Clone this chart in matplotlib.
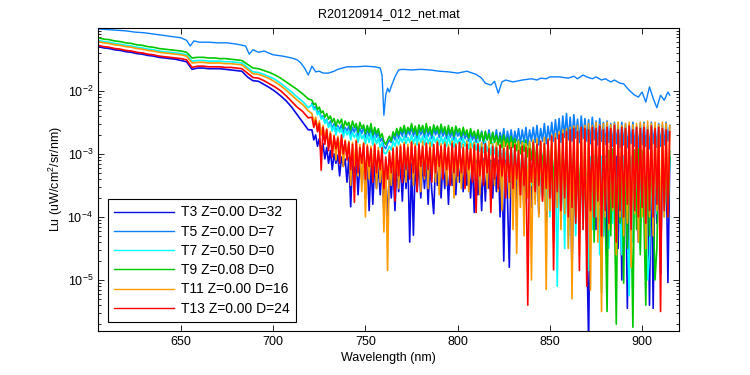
import numpy as np
import matplotlib
matplotlib.use("Agg")
import matplotlib.pyplot as plt

plt.rcParams['font.family'] = ['Liberation Sans', 'DejaVu Sans']
plt.rcParams['font.size'] = 9
plt.rcParams['mathtext.default'] = 'regular'

# wavelength grids (nm): smooth visible part and noisy NIR part
wl_vis = np.arange(605, 720, 3)   # 605 .. 719
wl_nir = np.arange(721, 916)      # 721 .. 915

# all radiance values below are log10(Lu)
t3_vis = [-1.30, -1.32, -1.33, -1.35, -1.36, -1.38, -1.39, -1.41, -1.42, -1.44,
          -1.45, -1.47, -1.48, -1.49, -1.50, -1.52, -1.54, -1.66, -1.64, -1.64,
          -1.65, -1.65, -1.65, -1.66, -1.67, -1.68, -1.69, -1.78, -1.84, -1.85,
          -1.90, -1.95, -2.01, -2.08, -2.16, -2.26, -2.38, -2.50, -2.62]
t3_nir = [-2.62, -2.78, -2.70, -2.88, -2.76, -2.98, -2.84, -3.08, -2.90, -3.15,
          -2.95, -3.25, -3.00, -3.15, -3.02, -3.35, -3.05, -3.20, -3.08, -3.45,
          -3.05, -3.84, -3.10, -3.30, -3.08, -3.65, -3.12, -3.40, -3.10, -3.70,
          -3.12, -3.90, -3.15, -3.80, -3.12, -3.55, -3.18, -3.65, -3.20, -3.90,
          -3.30, -4.13, -3.25, -3.70, -3.20, -3.90, -3.18, -3.60, -3.15, -3.75,
          -3.12, -3.55, -3.10, -4.40, -3.15, -4.29, -3.12, -3.60, -3.10, -3.70,
          -3.12, -3.55, -3.10, -3.80, -3.14, -3.60, -3.95, -3.12, -3.50, -3.10,
          -3.70, -3.12, -3.55, -3.10, -3.80, -3.14, -3.50, -3.10, -3.65, -3.12,
          -3.45, -3.10, -3.60, -3.14, -3.50, -3.10, -3.70, -3.12, -3.93, -3.10,
          -3.65, -3.12, -3.90, -3.08, -3.75, -3.12, -3.55, -3.10, -3.70, -3.08,
          -3.60, -3.10, -4.00, -3.06, -4.70, -3.08, -3.70, -4.80, -3.05, -3.60,
          -3.06, -3.80, -3.04, -3.65, -3.08, -3.90, -3.04, -3.60, -3.06, -3.85,
          -3.04, -3.70, -3.06, -3.95, -3.02, -3.65, -3.06, -4.10, -3.04, -3.75,
          -3.06, -4.20, -3.02, -3.80, -3.06, -4.00, -3.04, -3.70, -3.06, -4.30,
          -3.04, -4.90, -3.06, -3.90, -3.04, -4.10, -3.08, -3.80, -3.04, -4.40,
          -6.00, -3.06, -3.90, -3.04, -4.20, -3.08, -3.80, -3.06, -4.30, -3.04,
          -4.60, -3.06, -4.00, -3.08, -3.85, -3.04, -4.50, -3.06, -5.00, -3.04,
          -3.06, -5.45, -3.04, -4.20, -3.08, -3.90, -3.04, -4.40, -3.06, -3.85,
          -3.04, -4.00, -3.06, -5.40, -3.04, -5.45, -3.08, -4.10, -3.04, -4.90,
          -3.06, -3.80, -3.04, -5.04, -3.06]

t5_wl = [605, 610, 615, 620, 625, 630, 635, 640, 645, 650, 653, 655, 657, 660,
         665, 670, 675, 680, 685, 687, 689, 692, 695, 700, 705, 710, 713, 715,
         717, 719, 721, 723, 725, 727, 730, 733, 735, 740, 745, 750, 755, 758,
         759, 760, 761, 762, 763, 764, 766, 768, 770, 775, 780, 785, 790, 795,
         800, 805, 810, 813, 815, 818, 820, 822, 824, 826, 830, 835, 840, 843,
         845, 848, 850, 855, 860, 863, 865, 868, 870, 873, 875, 878, 880, 883,
         885, 888, 890, 892, 894, 896, 898, 900, 902, 904, 906, 908, 910, 912,
         914, 915]
t5_val = [-1.02, -1.03, -1.04, -1.05, -1.07, -1.08, -1.10, -1.12, -1.14, -1.16,
          -1.20, -1.29, -1.21, -1.23, -1.23, -1.24, -1.24, -1.26, -1.29, -1.42,
          -1.35, -1.39, -1.37, -1.43, -1.45, -1.48, -1.51, -1.56, -1.64, -1.75,
          -1.61, -1.70, -1.69, -1.72, -1.72, -1.69, -1.66, -1.62, -1.62, -1.61,
          -1.62, -1.64, -1.75, -2.39, -2.07, -1.96, -2.02, -1.93, -1.78, -1.67,
          -1.66, -1.67, -1.66, -1.67, -1.69, -1.70, -1.72, -1.69, -1.74, -1.80,
          -1.88, -1.91, -1.85, -2.04, -1.86, -1.83, -1.86, -1.83, -1.81, -1.83,
          -1.80, -1.81, -1.78, -1.78, -1.80, -1.77, -1.81, -1.75, -1.78, -1.81,
          -1.78, -1.83, -1.81, -1.86, -1.83, -1.88, -1.89, -1.96, -2.02, -2.07,
          -2.10, -2.02, -2.18, -1.94, -2.12, -2.27, -2.07, -2.15, -2.02, -2.07]

# unlabelled trace drawn in the T5 colour inside the noisy band
t5b_nir = [-2.20, -2.28, -2.25, -2.36, -2.32, -2.42, -2.40, -2.50, -2.45, -2.56,
           -2.48, -2.60, -2.52, -2.66, -2.55, -2.62, -2.54, -2.68, -2.58, -2.64,
           -2.56, -2.70, -2.58, -2.66, -2.55, -2.72, -2.60, -2.68, -2.57, -2.74,
           -2.60, -2.72, -2.58, -2.76, -2.62, -2.74, -2.66, -2.80, -2.75, -2.88,
           -2.92, -2.84, -2.78, -2.82, -2.70, -2.78, -2.65, -2.76, -2.62, -2.72,
           -2.60, -2.74, -2.62, -2.70, -2.58, -2.72, -2.62, -2.76, -2.60, -2.70,
           -2.62, -2.74, -2.58, -2.72, -2.63, -2.76, -2.60, -2.70, -2.62, -2.74,
           -2.60, -2.72, -2.63, -2.76, -2.61, -2.74, -2.64, -2.78, -2.62, -2.72,
           -2.66, -2.78, -2.64, -2.76, -2.68, -2.80, -2.66, -2.78, -2.70, -2.82,
           -2.68, -2.80, -2.64, -2.84, -2.70, -2.78, -2.62, -2.82, -2.66, -2.80,
           -2.62, -2.84, -2.66, -2.80, -2.60, -2.86, -2.64, -2.82, -2.62, -2.85,
           -2.64, -2.80, -2.60, -2.84, -2.62, -2.82, -2.58, -2.86, -2.62, -2.80,
           -2.58, -2.82, -2.55, -2.86, -2.60, -2.80, -2.52, -2.84, -2.56, -2.78,
           -2.50, -2.80, -2.46, -2.76, -2.44, -2.82, -2.40, -2.74, -2.36, -2.78,
           -2.42, -2.80, -2.38, -2.75, -2.45, -2.82, -2.40, -2.76, -2.44, -2.80,
           -2.46, -2.84, -2.42, -2.78, -2.48, -2.86, -2.44, -2.80, -2.50, -2.85,
           -2.48, -2.82, -2.52, -2.88, -2.50, -2.84, -2.54, -2.90, -2.50, -2.86,
           -2.52, -2.90, -2.55, -2.84, -2.50, -2.88, -2.56, -2.92, -2.52, -2.86,
           -2.50, -2.88, -2.55, -2.92, -2.50, -2.84, -2.56, -2.90, -2.52, -2.88,
           -2.54, -2.86, -2.50, -2.80, -2.55]

t7_vis = [-1.20, -1.22, -1.23, -1.25, -1.26, -1.28, -1.29, -1.31, -1.32, -1.34,
          -1.35, -1.37, -1.38, -1.39, -1.40, -1.41, -1.43, -1.53, -1.52, -1.52,
          -1.53, -1.53, -1.53, -1.54, -1.54, -1.55, -1.56, -1.63, -1.70, -1.71,
          -1.74, -1.78, -1.82, -1.88, -1.95, -2.02, -2.10, -2.17, -2.27]
t7_nir = [-2.22, -2.30, -2.28, -2.38, -2.34, -2.45, -2.42, -2.52, -2.46, -2.58,
          -2.52, -2.64, -2.56, -2.70, -2.58, -2.66, -2.60, -2.74, -2.62, -2.70,
          -2.64, -2.78, -2.66, -2.74, -2.68, -2.82, -2.66, -2.76, -2.70, -2.84,
          -2.70, -2.82, -2.68, -2.86, -2.72, -2.84, -2.74, -2.90, -2.82, -2.98,
          -3.00, -2.95, -2.88, -2.94, -2.80, -2.88, -2.76, -2.86, -2.74, -2.82,
          -2.72, -2.84, -2.74, -2.82, -2.70, -2.84, -2.72, -2.86, -2.70, -2.82,
          -2.72, -2.86, -2.70, -2.84, -2.74, -2.88, -2.72, -2.82, -2.74, -2.86,
          -2.72, -2.84, -2.74, -2.88, -2.72, -2.86, -2.75, -2.90, -2.74, -2.84,
          -2.76, -2.90, -2.75, -2.88, -2.78, -2.92, -2.76, -2.90, -2.80, -2.94,
          -2.80, -2.96, -2.82, -2.98, -2.80, -2.96, -2.84, -3.02, -2.82, -3.00,
          -2.86, -3.05, -2.88, -3.10, -2.86, -3.08, -2.90, -3.15, -2.88, -3.20,
          -2.92, -3.25, -2.94, -3.35, -2.96, -3.30, -2.95, -3.45, -2.98, -3.50,
          -2.96, -3.60, -3.00, -3.80, -2.98, -3.70, -3.02, -3.90, -3.00, -4.00,
          -3.00, -4.20, -3.02, -5.10, -3.00, -4.00, -3.04, -4.50, -3.02, -4.48,
          -3.00, -4.10, -3.04, -4.30, -3.02, -3.90, -3.06, -4.20, -3.04, -4.40,
          -4.85, -3.05, -4.20, -3.02, -4.00, -3.06, -4.60, -3.04, -4.30, -3.06,
          -3.04, -4.50, -3.06, -4.10, -3.02, -4.30, -3.08, -3.90, -4.60, -3.04,
          -3.06, -4.20, -5.25, -3.04, -4.40, -3.08, -4.00, -3.06, -4.50, -3.04,
          -3.08, -4.10, -5.00, -4.60, -3.06, -4.20, -3.04, -3.95, -3.08, -4.30,
          -3.06, -4.00, -3.04, -3.90, -3.06]

t9_vis = [-1.16, -1.18, -1.19, -1.21, -1.22, -1.24, -1.25, -1.27, -1.28, -1.30,
          -1.31, -1.33, -1.34, -1.35, -1.36, -1.37, -1.39, -1.48, -1.47, -1.47,
          -1.48, -1.48, -1.49, -1.49, -1.50, -1.51, -1.52, -1.58, -1.64, -1.65,
          -1.68, -1.71, -1.75, -1.80, -1.86, -1.92, -1.98, -2.05, -2.13]
t9_nir = [-2.15, -2.22, -2.20, -2.30, -2.26, -2.35, -2.32, -2.42, -2.36, -2.45,
          -2.40, -2.50, -2.44, -2.56, -2.46, -2.52, -2.45, -2.60, -2.48, -2.55,
          -2.50, -2.62, -2.48, -2.58, -2.52, -2.66, -2.50, -2.60, -2.54, -2.68,
          -2.55, -2.66, -2.52, -2.70, -2.58, -2.68, -2.60, -2.74, -2.68, -2.80,
          -2.85, -2.78, -2.72, -2.80, -2.65, -2.72, -2.60, -2.70, -2.58, -2.66,
          -2.55, -2.68, -2.58, -2.64, -2.52, -2.66, -2.56, -2.70, -2.54, -2.64,
          -2.55, -2.68, -2.52, -2.66, -2.57, -2.70, -2.54, -2.64, -2.56, -2.68,
          -2.53, -2.66, -2.57, -2.70, -2.55, -2.68, -2.58, -2.72, -2.56, -2.66,
          -2.60, -2.72, -2.58, -2.70, -2.62, -2.75, -2.60, -2.72, -2.64, -2.76,
          -2.62, -2.78, -2.66, -2.80, -2.64, -2.78, -2.68, -2.84, -2.66, -2.82,
          -2.70, -2.86, -2.72, -2.90, -2.70, -2.88, -2.74, -2.92, -2.72, -2.90,
          -2.76, -2.95, -2.78, -3.00, -2.80, -2.96, -2.78, -3.05, -2.82, -3.10,
          -2.80, -3.15, -2.84, -3.30, -2.86, -3.20, -2.85, -3.40, -2.88, -3.25,
          -2.86, -3.50, -2.90, -3.35, -2.88, -3.60, -2.92, -3.45, -2.90, -3.80,
          -2.88, -3.55, -2.92, -4.00, -2.90, -3.70, -2.94, -3.90, -2.92, -4.20,
          -2.90, -3.80, -2.94, -4.40, -2.92, -3.70, -2.95, -5.20, -2.92, -4.00,
          -5.50, -2.95, -4.30, -2.92, -3.90, -5.70, -2.96, -4.10, -2.94, -5.05,
          -2.92, -4.50, -2.96, -3.90, -5.75, -2.94, -4.20, -2.92, -4.60, -2.95,
          -4.00, -5.40, -2.94, -4.30, -2.92, -3.90, -5.00, -4.50, -2.94, -4.10,
          -2.95, -3.80, -2.92, -4.00, -2.96]

t11_vis = [-1.22, -1.24, -1.25, -1.27, -1.28, -1.30, -1.31, -1.33, -1.34, -1.36,
           -1.37, -1.39, -1.40, -1.41, -1.42, -1.43, -1.45, -1.56, -1.55, -1.55,
           -1.56, -1.56, -1.56, -1.57, -1.57, -1.58, -1.59, -1.66, -1.73, -1.74,
           -1.77, -1.81, -1.86, -1.92, -1.99, -2.07, -2.15, -2.22, -2.32]
t11_nir = [-2.36, -2.50, -2.42, -2.60, -2.48, -2.70, -2.55, -2.78, -2.60, -2.88,
           -2.65, -2.98, -2.70, -3.10, -2.72, -2.90, -2.75, -3.20, -2.78, -3.05,
           -2.80, -3.50, -2.82, -3.20, -2.78, -3.35, -2.85, -3.60, -2.82, -4.00,
           -2.85, -3.40, -2.88, -3.30, -2.84, -3.55, -2.90, -3.45, -3.00, -4.24,
           -3.10, -4.85, -2.95, -3.50, -2.90, -3.35, -2.88, -3.55, -2.85, -3.40,
           -2.82, -3.45, -2.85, -3.30, -2.80, -3.50, -2.84, -3.35, -2.82, -3.60,
           -2.80, -3.40, -2.84, -3.55, -2.82, -3.30, -2.86, -3.45, -2.80, -3.65,
           -2.84, -3.35, -2.82, -3.50, -2.86, -3.40, -2.80, -3.70, -2.84, -3.45,
           -2.82, -3.55, -2.85, -3.35, -2.80, -3.60, -2.84, -3.40, -2.82, -3.50,
           -2.84, -3.65, -2.82, -3.45, -2.86, -3.55, -2.80, -3.75, -2.84, -3.50,
           -2.82, -3.60, -2.86, -3.90, -2.80, -3.55, -2.84, -3.70, -2.82, -4.20,
           -2.84, -4.58, -2.80, -3.85, -2.82, -4.30, -2.84, -3.70, -2.80, -5.00,
           -2.78, -3.80, -2.76, -4.00, -2.80, -3.75, -2.74, -5.15, -2.76, -3.90,
           -2.70, -4.40, -2.68, -3.85, -2.65, -4.20, -2.62, -3.95, -2.60, -4.50,
           -2.58, -5.30, -2.56, -4.00, -2.55, -4.60, -2.58, -3.90, -2.55, -4.30,
           -2.52, -5.16, -2.55, -3.95, -2.50, -4.40, -2.54, -5.50, -2.52, -4.00,
           -2.50, -4.20, -2.54, -3.90, -2.52, -4.60, -2.50, -4.00, -2.55, -4.30,
           -2.52, -4.10, -2.50, -4.80, -2.54, -3.95, -2.52, -4.40, -2.50, -4.00,
           -2.52, -4.50, -2.48, -4.00, -2.52, -4.30, -2.50, -3.90, -2.54, -4.20,
           -2.50, -4.00, -2.52, -3.90, -2.55]

t13_vis = [-1.28, -1.30, -1.31, -1.33, -1.34, -1.36, -1.37, -1.39, -1.40, -1.42,
           -1.43, -1.45, -1.46, -1.47, -1.48, -1.49, -1.51, -1.63, -1.61, -1.61,
           -1.62, -1.62, -1.62, -1.63, -1.63, -1.64, -1.65, -1.72, -1.79, -1.80,
           -1.84, -1.89, -1.94, -2.00, -2.08, -2.17, -2.26, -2.33, -2.43]
t13_nir = [-2.42, -2.58, -2.47, -2.65, -2.52, -3.26, -2.58, -2.85, -2.62, -2.95,
           -2.68, -3.05, -2.72, -2.92, -2.75, -3.15, -2.70, -3.00, -2.80, -3.10,
           -2.82, -3.25, -2.85, -3.77, -2.80, -3.30, -2.90, -3.15, -2.84, -3.40,
           -2.88, -3.20, -2.92, -3.45, -2.86, -3.30, -2.95, -3.25, -2.90, -3.55,
           -3.05, -3.40, -2.98, -3.30, -2.92, -3.75, -2.90, -3.35, -2.88, -3.45,
           -2.85, -3.25, -2.90, -3.40, -2.82, -3.30, -2.88, -3.60, -2.85, -3.20,
           -2.88, -3.35, -2.83, -3.25, -2.90, -3.45, -2.85, -3.30, -2.82, -3.20,
           -2.88, -3.40, -2.85, -3.25, -2.90, -3.50, -2.84, -3.30, -2.86, -3.35,
           -2.82, -3.30, -2.90, -3.55, -2.85, -3.25, -2.92, -3.45, -2.86, -3.93,
           -2.85, -3.35, -2.90, -3.50, -2.84, -3.30, -2.92, -3.93, -2.88, -3.40,
           -2.90, -3.55, -2.86, -3.35, -2.92, -3.70, -2.88, -3.45, -2.90, -3.55,
           -2.86, -3.40, -2.95, -3.65, -2.88, -3.50, -2.90, -5.40, -2.92, -3.45,
           -2.82, -3.60, -2.85, -3.50, -2.80, -3.75, -2.84, -3.55, -2.78, -3.70,
           -2.72, -4.84, -2.75, -3.60, -2.70, -3.90, -2.68, -3.70, -2.65, -4.00,
           -2.62, -3.85, -2.60, -4.10, -2.65, -4.85, -2.58, -4.20, -2.60, -5.10,
           -2.62, -3.90, -2.58, -4.00, -2.60, -3.75, -2.56, -4.30, -2.62, -3.90,
           -2.58, -4.10, -2.60, -3.85, -2.55, -4.40, -2.62, -3.90, -2.58, -4.00,
           -2.60, -3.80, -2.56, -4.20, -2.62, -3.90, -2.58, -4.00, -2.60, -3.85,
           -2.58, -4.10, -2.62, -3.90, -2.56, -4.00, -2.60, -3.80, -2.58, -5.50,
           -2.60, -3.90, -2.62, -4.00, -2.65]

labels = ["T3 Z=0.00 D=32", "T5 Z=0.00 D=7", "T7 Z=0.50 D=0",
          "T9 Z=0.08 D=0", "T11 Z=0.00 D=16", "T13 Z=0.00 D=24"]
colors = ['#0a0ae6', '#0a80ff', '#00ffff', '#00c800', '#ff9900', '#ff0000']

wl_all = np.concatenate([wl_vis, wl_nir])

fig = plt.figure(figsize=(7.5, 3.75), dpi=100)
ax = fig.add_axes([98 / 750, 44 / 375, 581 / 750, 303 / 375])

lw = 1.2
ax.plot(wl_all, 10 ** np.array(t3_vis + t3_nir), color=colors[0], lw=lw, label=labels[0])
ax.plot(t5_wl, 10 ** np.array(t5_val), color=colors[1], lw=1.0, label=labels[1])
ax.plot(wl_nir, 10 ** np.array(t5b_nir), color=colors[1], lw=lw, label='_nolegend_')
ax.plot(wl_all, 10 ** np.array(t7_vis + t7_nir), color=colors[2], lw=lw, label=labels[2])
ax.plot(wl_all, 10 ** np.array(t9_vis + t9_nir), color=colors[3], lw=lw, label=labels[3])
ax.plot(wl_all, 10 ** np.array(t11_vis + t11_nir), color=colors[4], lw=lw, label=labels[4])
ax.plot(wl_all, 10 ** np.array(t13_vis + t13_nir), color=colors[5], lw=lw, label=labels[5])

ax.set_yscale('log')
ax.set_xlim(605, 920)
ax.set_ylim(1.55e-6, 0.0989)
ax.set_xticks([650, 700, 750, 800, 850, 900])
ax.tick_params(which='both', direction='in', top=True, right=True, width=0.6)
ax.tick_params(which='major', length=4)
ax.tick_params(which='minor', length=2)
for s in ax.spines.values():
    s.set_linewidth(0.8)

ax.set_title("R20120914_012_net.mat", fontsize=9, pad=8)
ax.set_xlabel("Wavelength (nm)", fontsize=9, labelpad=3)
ax.set_ylabel("Lu (uW/cm$^2$/sr/nm)", fontsize=9, labelpad=2)

leg = ax.legend(loc='lower left', bbox_to_anchor=(0.0172, 0.0297), fontsize=10,
                frameon=True, fancybox=False, framealpha=1, edgecolor='black',
                borderaxespad=0, handlelength=4.3, handletextpad=0.5,
                labelspacing=0.38, borderpad=0.45)
leg.get_frame().set_linewidth(0.8)
for h in leg.get_lines():
    h.set_linewidth(1.0)

fig.savefig("out.png", dpi=100)
